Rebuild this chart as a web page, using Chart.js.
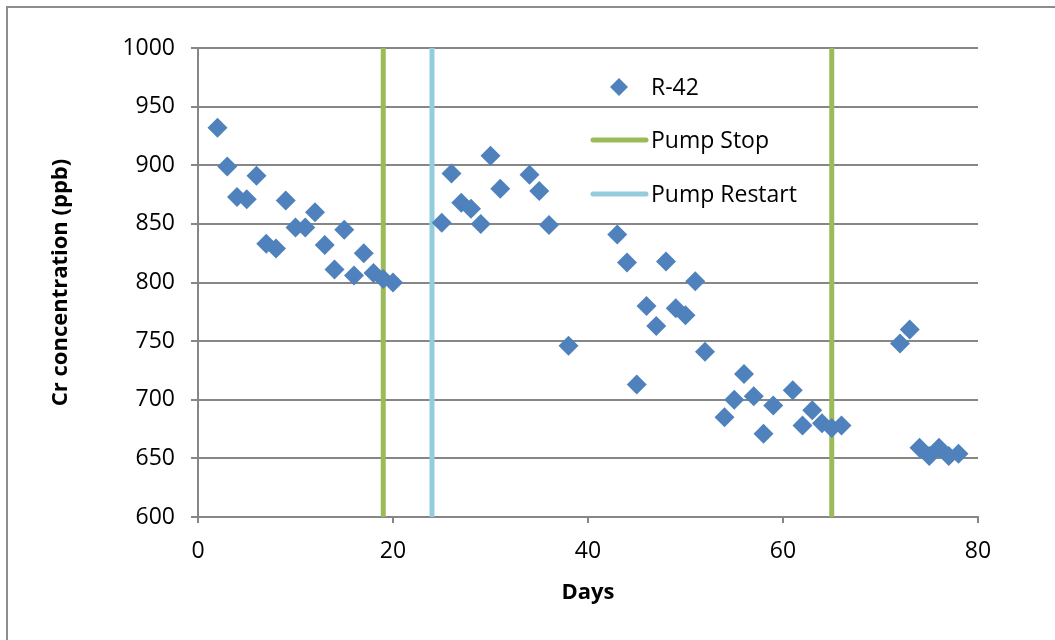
<!DOCTYPE html>
<html>
<head>
<meta charset="utf-8">
<title>R-42 Cr concentration</title>
<script src="https://cdn.jsdelivr.net/npm/chart.js@4.4.1/dist/chart.umd.min.js"></script>
<style>
  html, body { margin: 0; padding: 0; background: #fff; overflow: hidden; }
  #wrap { position: relative; width: 1055px; height: 640px; overflow: hidden; }
  #frame { position: absolute; left: 6px; top: 6px; width: 1100px; height: 700px; border: 2px solid #8d8d8d; }
  #chart { position: absolute; left: 0; top: 0; }
</style>
</head>
<body>
<div id="wrap">
  <div id="frame"></div>
  <canvas id="chart" width="1055" height="640"></canvas>
</div>
<script>
//Sampling days and Cr concentration (ppb) for well R-42
const days = [
  2, 3, 4, 5, 6, 7, 8, 9, 10, 11, 12, 13, 14, 15, 16, 17, 18, 19, 20,
  25, 26, 27, 28, 29, 30, 31, 34, 35, 36, 38,
  43, 44, 45, 46, 47, 48, 49, 50, 51, 52, 54, 55, 56, 57, 58, 59, 61, 62, 63, 64, 65, 66,
  72, 73, 74, 75, 76, 77, 78
];
const cr = [
  932, 899, 873, 871, 891, 833, 829, 870, 847, 847, 860, 832, 811, 845, 806, 825, 808, 803, 800,
  851, 893, 868, 863, 850, 908, 880, 892, 878, 849, 746,
  841, 817, 713, 780, 763, 818, 778, 772, 801, 741, 685, 700, 722, 703, 671, 695, 708, 678, 691, 680, 676, 678,
  748, 760, 659, 652, 659, 652, 654
];
//Days where the pump was stopped / restarted
const pumpStopDays = [19, 65];
const pumpRestartDays = [24];
//Axis ranges
const xTicks = { min: 0, max: 80, step: 20 };
const yTicks = { min: 600, max: 1000, step: 50 };

const axisGray = "#868686";
const tickFont = { family: "'Open Sans', sans-serif", size: 23 };
const titleFont = { family: "'Open Sans', sans-serif", size: 22, weight: "bold" };

//vertical line from bottom to top of the y range, broken between days
function verticalLines(list) {
  const pts = [];
  list.forEach((d, i) => {
    if (i > 0) pts.push({ x: (list[i - 1] + d) / 2, y: null });
    pts.push({ x: d, y: yTicks.min });
    pts.push({ x: d, y: yTicks.max });
  });
  return pts;
}

//legend drawn inside the plot like the original
const insideLegend = {
  id: "insideLegend",
  afterDraw(chart) {
    const c = chart.ctx;
    const rows = [87, 140, 194];
    c.save();
    c.font = "23px 'Open Sans', sans-serif";
    c.textBaseline = "middle";
    chart.data.datasets.forEach((ds, i) => {
      const y = rows[i];
      if (ds.showLine === false) {
        c.fillStyle = ds.backgroundColor;
        c.beginPath();
        c.moveTo(619 - 9, y);
        c.lineTo(619, y - 9);
        c.lineTo(619 + 9, y);
        c.lineTo(619, y + 9);
        c.closePath();
        c.fill();
      } else {
        c.strokeStyle = ds.borderColor;
        c.lineWidth = 5;
        c.lineCap = "round";
        c.beginPath();
        c.moveTo(593, y);
        c.lineTo(646, y);
        c.stroke();
      }
      c.fillStyle = "#000";
      c.fillText(ds.label, 651, y + 1);
    });
    c.restore();
  }
};

const ctx = document.getElementById("chart");
const myChart = new Chart(ctx, {
  type: "scatter",
  data: {
    datasets: [
      {
        label: "R-42",
        data: days.map((d, i) => ({ x: d, y: cr[i] })),
        pointStyle: "rectRot",
        pointRadius: 10,
        pointHoverRadius: 10,
        backgroundColor: "#4F81BD",
        borderColor: "#4F81BD",
        borderWidth: 0,
        showLine: false,
      },
      {
        label: "Pump Stop",
        type: "line",
        data: verticalLines(pumpStopDays),
        borderColor: "#9BBB59",
        backgroundColor: "#9BBB59",
        borderWidth: 5,
        pointRadius: 0,
        spanGaps: false,
      },
      {
        label: "Pump Restart",
        type: "line",
        data: verticalLines(pumpRestartDays),
        borderColor: "#93CDDD",
        backgroundColor: "#93CDDD",
        borderWidth: 5,
        pointRadius: 0,
        spanGaps: false,
      },
    ],
  },
  options: {
    responsive: false,
    animation: false,
    layout: { padding: { left: 0, top: 48, right: 77, bottom: 0 } },
    plugins: {
      legend: { display: false },
      tooltip: { enabled: false },
    },
    scales: {
      x: {
        type: "linear",
        min: xTicks.min,
        max: xTicks.max,
        ticks: { stepSize: xTicks.step, color: "#000", font: tickFont, padding: 15, maxRotation: 0, callback: (v) => String(v) },
        grid: { drawOnChartArea: false, tickLength: 6, color: axisGray, lineWidth: 2 },
        border: { color: axisGray, width: 2 },
        title: { display: true, text: "Days", color: "#000", font: titleFont, padding: { top: 0, bottom: 34 } },
        afterFit: (s) => { s.height = 123; },
      },
      y: {
        min: yTicks.min,
        max: yTicks.max,
        ticks: { stepSize: yTicks.step, color: "#000", font: tickFont, padding: 16, callback: (v) => String(v) },
        grid: { color: axisGray, lineWidth: 2, tickLength: 7 },
        border: { color: axisGray, width: 2 },
        title: { display: true, text: "Cr concentration (ppb)", color: "#000", font: titleFont, padding: { top: 48, bottom: 0 } },
        afterFit: (s) => { s.width = 198; },
      },
    },
  },
  plugins: [insideLegend],
});
</script>
</body>
</html>
